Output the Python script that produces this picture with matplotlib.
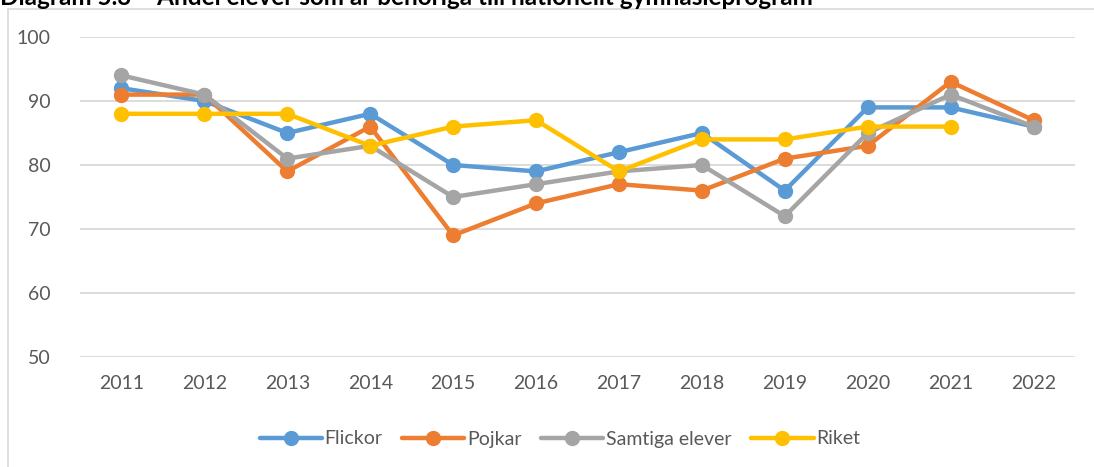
import numpy as np
import matplotlib
matplotlib.use("Agg")
import matplotlib.pyplot as plt
from matplotlib.patches import Rectangle

plt.rcParams['font.family'] = ['Lato', 'DejaVu Sans']

years = ['2011', '2012', '2013', '2014', '2015', '2016', '2017', '2018', '2019', '2020', '2021', '2022']
flickor = [92, 90, 85, 88, 80, 79, 82, 85, 76, 89, 89, 86]
pojkar = [91, 91, 79, 86, 69, 74, 77, 76, 81, 83, 93, 87]
samtiga = [94, 91, 81, 83, 75, 77, 79, 80, 72, 85, 91, 86]
riket = [88, 88, 88, 83, 86, 87, 79, 84, 84, 86, 86, np.nan]

series = [
    ('Flickor', flickor, '#5B9BD5'),
    ('Pojkar', pojkar, '#ED7D31'),
    ('Samtiga elever', samtiga, '#A5A5A5'),
    ('Riket', riket, '#FFC000'),
]

fig = plt.figure(figsize=(10.94, 4.67), dpi=100)
ax = fig.add_axes([80 / 1094, 1 - 357 / 467, 995 / 1094, 320 / 467])

x = np.arange(len(years))
for name, vals, col in series:
    ax.plot(x, vals, '-o', color=col, lw=3.2, ms=10, label=name, solid_capstyle='round')

ax.set_xlim(-0.5, len(years) - 0.5)
ax.set_ylim(50, 100)
ax.set_yticks(np.arange(50, 101, 10))
ax.set_xticks(x)
ax.set_xticklabels(years)
ax.yaxis.grid(True, color='#D9D9D9', lw=1.3)
ax.set_axisbelow(True)
for s in ax.spines.values():
    s.set_visible(False)
ax.tick_params(length=0, labelsize=14, colors='#595959', pad=13)
ax.tick_params(axis='y', pad=21)

fig.legend(loc='center', bbox_to_anchor=(560 / 1094, 1 - 439 / 467), ncol=4,
           frameon=False, fontsize=14, handlelength=3.2, columnspacing=1.0,
           handletextpad=0.15, labelcolor='#595959')

# chart area border
fig.patches.append(Rectangle((8 / 1094, -0.2), 1.2, 1.2 - 9 / 467,
                             transform=fig.transFigure, fill=False,
                             ec='#D9D9D9', lw=1.2))

fig.text(0.0, 1 - 5 / 467, 'Diagram 5.3 – Andel elever som är behöriga till nationellt gymnasieprogram',
         fontsize=17.5, fontweight='bold', color='black', va='baseline', ha='left')

fig.savefig('out.png', dpi=100)
